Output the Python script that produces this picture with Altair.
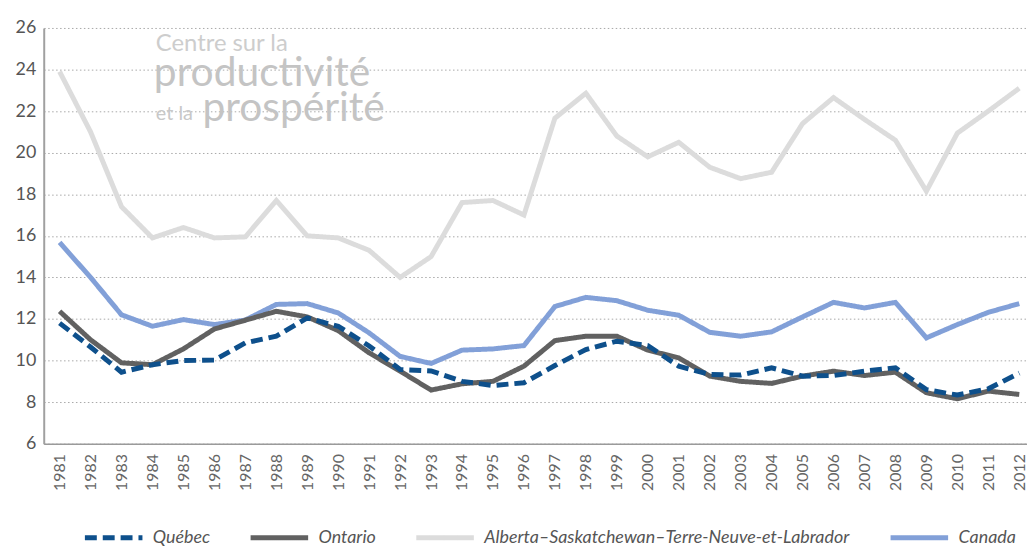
import altair as alt
import pandas as pd

years = list(range(1981, 2013))
quebec = [11.8, 10.65, 9.44, 9.8, 10.0, 10.02, 10.85, 11.17,
          12.05, 11.65, 10.7, 9.57, 9.5, 9.0, 8.8, 8.93,
          9.76, 10.53, 10.93, 10.72, 9.73, 9.33, 9.3, 9.65,
          9.25, 9.28, 9.49, 9.65, 8.6, 8.34, 8.64, 9.4]
ontario = [12.37, 11.0, 9.89, 9.8, 10.56, 11.52, 11.94, 12.37,
           12.1, 11.44, 10.37, 9.49, 8.58, 8.88, 9.0, 9.73,
           10.96, 11.17, 11.17, 10.5, 10.13, 9.25, 9.0, 8.9,
           9.25, 9.49, 9.28, 9.44, 8.45, 8.16, 8.53, 8.37]
alberta = [23.9, 21.0, 17.4, 15.9, 16.4, 15.9, 15.95, 17.7,
           16.0, 15.9, 15.3, 14.0, 15.0, 17.6, 17.7, 17.0,
           21.66, 22.86, 20.8, 19.8, 20.5, 19.3, 18.75, 19.06,
           21.4, 22.65, 21.6, 20.6, 18.15, 20.94, 22.0, 23.1]
canada = [15.68, 14.0, 12.2, 11.65, 11.97, 11.73, 11.95, 12.7,
          12.74, 12.29, 11.33, 10.2, 9.86, 10.5, 10.56, 10.72,
          12.6, 13.04, 12.88, 12.42, 12.18, 11.36, 11.17, 11.38,
          12.1, 12.8, 12.53, 12.8, 11.09, 11.73, 12.32, 12.74]
series_names = ["Québec", "Ontario",
                "Alberta–Saskatchewan–Terre-Neuve-et-Labrador", "Canada"]
y_ticks = list(range(6, 27, 2))
logo_texts = ["Centre sur la", "productivité", "et la", "prospérité"]

rows = []
for name, vals in zip(series_names, [quebec, ontario, alberta, canada]):
    for yr, v in zip(years, vals):
        rows.append({"annee": yr, "valeur": v, "serie": name})
df = pd.DataFrame(rows)

colors = ["#0e508c", "#616161", "#dcdcdc", "#82a0d8"]
dashes = [[12, 6], [1, 0], [1, 0], [1, 0]]

legend = alt.Legend(
    title=None, orient="none", legendX=39, legendY=482,
    direction="horizontal", symbolType="stroke", symbolSize=3364,
    symbolStrokeWidth=5, labelFont="Lato", labelFontStyle="italic",
    labelFontSize=18, labelColor="#555555", labelLimit=500,
    columnPadding=30, labelOffset=8,
)

x_enc = alt.X(
    "annee:Q",
    scale=alt.Scale(domain=[1980.487, 2012.25], nice=False, zero=False),
    axis=alt.Axis(values=years, format="d", labelAngle=270, title=None,
                  grid=False, ticks=False, labelFlush=False,
                  labelOverlap=False, labelPadding=10,
                  domainColor="#9a9a9a", domainWidth=1.5,
                  labelFont="Lato", labelFontSize=16, labelColor="#666666"),
)
y_enc = alt.Y(
    "valeur:Q",
    scale=alt.Scale(domain=[6, 26], nice=False, zero=False),
    axis=alt.Axis(values=y_ticks, title=None, grid=True,
                  gridDash=[1.5, 2.5], gridColor="#a8a8a8", gridWidth=1,
                  ticks=False, domainColor="#a0a0a0", domainWidth=2,
                  labelPadding=8, labelFont="Lato", labelFontSize=18,
                  labelColor="#555555"),
)
color_enc = alt.Color("serie:N",
                      scale=alt.Scale(domain=series_names, range=colors),
                      legend=legend)
dash_enc = alt.StrokeDash("serie:N",
                          scale=alt.Scale(domain=series_names, range=dashes),
                          legend=legend)

base = alt.Chart(df)
draw_order = [series_names[2], series_names[3], series_names[1], series_names[0]]
line_layers = [
    base.transform_filter(alt.datum.serie == name)
    .mark_line(strokeWidth=5)
    .encode(x=x_enc, y=y_enc, color=color_enc, strokeDash=dash_enc)
    for name in draw_order
]

logo_specs = [
    (logo_texts[0], 113, 23, 24, "#cdcdcd"),
    (logo_texts[1], 111, 59, 41, "#c4c4c4"),
    (logo_texts[2], 113, 93, 20, "#c8c8c8"),
    (logo_texts[3], 160, 94, 41, "#c4c4c4"),
]
logo_layers = [
    alt.Chart(pd.DataFrame({"t": [t]}))
    .mark_text(align="left", baseline="alphabetic", font="Lato",
               fontSize=fs, color=col)
    .encode(x=alt.value(xp), y=alt.value(yp), text="t:N")
    for (t, xp, yp, fs, col) in logo_specs
]

chart = alt.layer(*logo_layers, *line_layers).properties(
    width=991, height=419,
    autosize=alt.AutoSizeParams(type="none"),
    padding={"left": 36, "top": 18, "right": 0, "bottom": 102},
    background="white",
).configure_view(stroke=None)

chart.save("out.html", embed_options={"renderer": "svg", "actions": False})
